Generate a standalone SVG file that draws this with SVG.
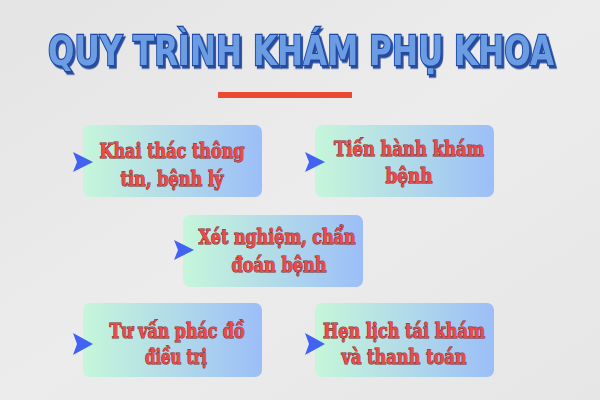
<svg xmlns="http://www.w3.org/2000/svg" width="600" height="400" viewBox="0 0 600 400">
<defs>
<linearGradient id="bg" x1="0" y1="0" x2="1" y2="1">
<stop offset="0" stop-color="#e4e4e4"/>
<stop offset="0.5" stop-color="#ececec"/>
<stop offset="1" stop-color="#e6e6e6"/>
</linearGradient>
<linearGradient id="box" x1="0" y1="0" x2="1" y2="0">
<stop offset="0" stop-color="#c6f6da"/>
<stop offset="0.55" stop-color="#b0d8ea"/>
<stop offset="1" stop-color="#9cbef8"/>
</linearGradient>
<filter id="shadow" x="-10%" y="-40%" width="120%" height="180%">
<feDropShadow dx="2.5" dy="2.5" stdDeviation="0" flood-color="#2a4c9c" flood-opacity="1"/>
</filter>
<style>
.box{fill:url(#box);}
.arrow{fill:#4262f2;}
.lbl{font-family:"DejaVu Serif","Liberation Serif",serif;font-weight:bold;font-size:20px;fill:#ec4a4a;stroke:#7e2a2a;stroke-width:1.1;paint-order:stroke;text-anchor:middle;}
.title{font-family:"DejaVu Sans","Liberation Sans",sans-serif;font-weight:bold;font-size:41px;text-anchor:middle;fill:#6c9de2;stroke:#1c4aa8;stroke-width:2.4;paint-order:stroke;}
</style>
</defs>
<rect width="600" height="400" fill="url(#bg)"/>
<g id="title">
<text class="title" transform="translate(301,65) scale(0.76,1)" filter="url(#shadow)">QUY TRÌNH KHÁM PHỤ KHOA</text>
</g>
<rect id="divider" x="218" y="92" width="134" height="6" fill="#e84a32"/>
<g id="node1">
<rect class="box" x="83" y="125" width="179" height="72" rx="7"/>
<text class="lbl" x="172" y="158" textLength="145" lengthAdjust="spacingAndGlyphs">Khai thác thông</text>
<text class="lbl" x="172" y="186" textLength="103" lengthAdjust="spacingAndGlyphs">tin, bệnh lý</text>
</g>
<g id="node2">
<rect class="box" x="315" y="125" width="179" height="72" rx="7"/>
<text class="lbl" x="409" y="156" textLength="150" lengthAdjust="spacingAndGlyphs">Tiến hành khám</text>
<text class="lbl" x="409" y="183" textLength="47" lengthAdjust="spacingAndGlyphs">bệnh</text>
</g>
<g id="node3">
<rect class="box" x="183" y="215" width="180" height="72" rx="7"/>
<text class="lbl" x="277" y="244" textLength="157" lengthAdjust="spacingAndGlyphs">Xét nghiệm, chẩn</text>
<text class="lbl" x="279" y="272" textLength="95" lengthAdjust="spacingAndGlyphs">đoán bệnh</text>
</g>
<g id="node4">
<rect class="box" x="83" y="303" width="179" height="74" rx="7"/>
<text class="lbl" x="177" y="338" textLength="135" lengthAdjust="spacingAndGlyphs">Tư vấn phác đồ</text>
<text class="lbl" x="176" y="364" textLength="62" lengthAdjust="spacingAndGlyphs">điều trị</text>
</g>
<g id="node5">
<rect class="box" x="315" y="303" width="179" height="74" rx="7"/>
<text class="lbl" x="404" y="338" textLength="162" lengthAdjust="spacingAndGlyphs">Hẹn lịch tái khám</text>
<text class="lbl" x="404" y="364" textLength="125" lengthAdjust="spacingAndGlyphs">và thanh toán</text>
</g>
<g id="connectors">
<polygon class="arrow" points="73,152 93,162 73,172 77,162"/>
<polygon class="arrow" points="305,152 325,162 305,172 309,162"/>
<polygon class="arrow" points="174,240 194,250 174,260 178,250"/>
<polygon class="arrow" points="73,333 93,344 73,355 77,344"/>
<polygon class="arrow" points="305,333 325,344 305,355 309,344"/>
</g>
</svg>
